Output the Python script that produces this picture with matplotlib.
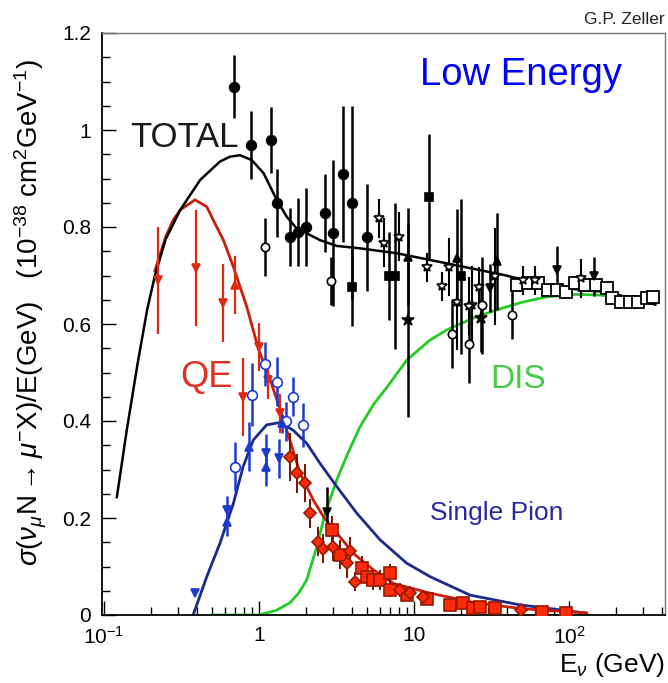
import matplotlib
matplotlib.use("Agg")
import matplotlib.pyplot as plt
from matplotlib.ticker import FixedLocator, FixedFormatter, MultipleLocator, NullFormatter

plt.rcParams['font.family'] = ['Liberation Sans', 'DejaVu Sans']
plt.rcParams['mathtext.fontset'] = 'custom'
plt.rcParams['mathtext.rm'] = 'Liberation Sans'
plt.rcParams['mathtext.it'] = 'Liberation Sans:italic'
plt.rcParams['mathtext.sf'] = 'Liberation Sans'

# ---------------- curves ----------------
total_E = [0.121, 0.14, 0.165, 0.19, 0.213, 0.25, 0.31, 0.417, 0.56, 0.65, 0.754, 0.897, 1.07, 1.30,
           1.51, 1.75, 2.03, 2.47, 3.17, 4.48, 7.7, 12.7, 26.7, 38, 79, 176, 316, 360]
total_y = [0.243, 0.38, 0.52, 0.63, 0.70, 0.775, 0.835, 0.897, 0.935, 0.945, 0.948, 0.938, 0.911, 0.856,
           0.821, 0.797, 0.787, 0.773, 0.761, 0.756, 0.746, 0.732, 0.711, 0.701, 0.676, 0.666, 0.645, 0.64]

qe_E = [0.213, 0.25, 0.28, 0.31, 0.386, 0.46, 0.507, 0.589, 0.683, 0.833, 0.99, 1.18, 1.37, 1.58, 1.84,
        2.24, 2.6, 3.33, 4.06, 5.47, 7.37, 12.7, 25, 50, 130]
qe_y = [0.71, 0.78, 0.815, 0.835, 0.856, 0.842, 0.814, 0.773, 0.718, 0.636, 0.549, 0.485, 0.423, 0.361,
        0.292, 0.237, 0.203, 0.161, 0.127, 0.093, 0.065, 0.045, 0.025, 0.013, 0.004]

pion_E = [0.376, 0.46, 0.56, 0.683, 0.79, 0.919, 1.12, 1.37, 1.66, 2.03, 2.47, 3.17, 4.27, 6.04, 8.95,
          12.7, 23, 48, 101, 130]
pion_y = [0.0, 0.079, 0.148, 0.23, 0.306, 0.361, 0.392, 0.397, 0.381, 0.354, 0.313, 0.265, 0.21, 0.155,
          0.107, 0.079, 0.041, 0.021, 0.008, 0.004]

dis_E = [0.5, 1.0, 1.3, 1.58, 1.8, 2.03, 2.36, 2.67, 3.17, 3.7, 4.48, 5.5, 6.7, 9.0, 12.7, 16.3, 24, 34,
         50, 72, 110, 151, 220, 316]
dis_y = [0.0, 0.0, 0.01, 0.025, 0.045, 0.072, 0.141, 0.21, 0.278, 0.33, 0.388, 0.435, 0.47, 0.526, 0.567,
         0.588, 0.612, 0.629, 0.645, 0.656, 0.661, 0.66, 0.656, 0.65]

# ---------------- data points ----------------
bfc_E = [0.693, 0.888, 1.19, 1.30, 1.58, 1.79, 2.0, 2.66, 2.99, 3.46, 3.98, 5.0]
bfc_y = [1.089, 0.969, 0.979, 0.849, 0.779, 0.79, 0.80, 0.829, 0.788, 0.909, 0.849, 0.779]
bfc_e = [0.065, 0.07, 0.068, 0.07, 0.06, 0.07, 0.08, 0.08, 0.15, 0.14, 0.2, 0.11]

bfs_E = [3.98, 6.9, 7.5, 12.4, 20.2]
bfs_y = [0.676, 0.699, 0.699, 0.862, 0.698]
bfs_e = [0.08, 0.09, 0.15, 0.13, 0.16]

bfx_E = [9.1, 27.0]
bfx_y = [0.608, 0.612]
bfx_e = [0.2, 0.07]

boc_E = [1.09, 2.9, 17.7, 22.7, 27.6, 43]
boc_y = [0.759, 0.689, 0.579, 0.559, 0.639, 0.619]
boc_e = [0.06, 0.05, 0.07, 0.08, 0.1, 0.05]

bst_E = [5.98, 6.4, 8.04, 12.1, 15.1, 16.9, 18.8, 23.6, 26.4, 22.7, 33.3, 50.5, 60, 120]
bst_y = [0.818, 0.768, 0.78, 0.717, 0.678, 0.717, 0.646, 0.639, 0.677, 0.637, 0.698, 0.69, 0.69, 0.694]
bst_e = [0.04, 0.05, 0.05, 0.03, 0.03, 0.06, 0.1, 0.08, 0.04, 0.06, 0.1, 0.03, 0.03, 0.04]

btu_E = [9.1, 19.0, 34.1]
btu_y = [0.739, 0.737, 0.729]
btu_e = [0.1, 0.1, 0.1]

btd_E = [2.73, 31, 83, 144]
btd_y = [0.213, 0.674, 0.711, 0.698]
btd_e = [0.05, 0.05, 0.05, 0.04]

bos_E = [46, 54.5, 63.2, 73.4, 83, 96, 109, 126, 150, 175, 190, 217, 248, 280, 317, 350]
bos_y = [0.68, 0.684, 0.684, 0.67, 0.67, 0.667, 0.684, 0.68, 0.68, 0.674, 0.653, 0.646, 0.646, 0.646,
         0.653, 0.656]

rtd_E = [0.223, 0.392, 0.589, 0.79, 1.0, 1.15, 1.37]
rtd_y = [0.69, 0.715, 0.643, 0.45, 0.553, 0.485, 0.416]
rtd_e = [0.11, 0.12, 0.08, 0.08, 0.05, 0.04, 0.04]

rtu_E = [0.7]
rtu_y = [0.68]
rtu_e = [0.06]

rsq_E = [2.94, 3.33, 4.6, 4.95, 5.47, 6.04, 7.0, 7.0, 8.95, 12.1, 17.1, 20.8, 24.1, 26.7, 33.2, 67, 96]
rsq_y = [0.175, 0.124, 0.096, 0.079, 0.072, 0.072, 0.086, 0.052, 0.041, 0.034, 0.021, 0.024, 0.014,
         0.017, 0.014, 0.007, 0.005]
rsq_e = [0.03, 0.03, 0.025, 0.02, 0.02, 0.02, 0.02, 0.015, 0.012, 0.01, 0.008, 0.008, 0.006, 0.006,
         0.005, 0.004, 0.003]

rdm_E = [1.58, 1.75, 1.98, 2.13, 2.41, 2.6, 3.01, 3.68, 3.87, 4.16, 8.1, 9.4, 11.5, 49]
rdm_y = [0.326, 0.292, 0.272, 0.21, 0.151, 0.137, 0.141, 0.107, 0.131, 0.069, 0.052, 0.045, 0.038, 0.01]
rdm_e = [0.05, 0.04, 0.04, 0.03, 0.03, 0.03, 0.03, 0.03, 0.03, 0.02, 0.015, 0.012, 0.01, 0.005]

boc2_E = [0.7, 0.897, 1.09, 1.30, 1.49, 1.65, 1.91]
boc2_y = [0.306, 0.454, 0.518, 0.481, 0.399, 0.45, 0.392]
boc2_e = [0.05, 0.065, 0.045, 0.05, 0.04, 0.04, 0.045]

bltd_E = [0.386, 0.62, 1.11, 1.35]
bltd_y = [0.045, 0.216, 0.333, 0.323]
bltd_e = [0.0, 0.03, 0.04, 0.04]

bltu_E = [0.62, 0.866, 1.11, 1.40]
bltu_y = [0.192, 0.347, 0.306, 0.395]
bltu_e = [0.03, 0.05, 0.04, 0.02]

xtick_vals = [0.1, 1, 10, 100]
xtick_labels = [r"$10^{-1}$", "1", "10", r"$10^{2}$"]
ytick_vals = [0, 0.2, 0.4, 0.6, 0.8, 1.0, 1.2]
ytick_labels = ["0", "0.2", "0.4", "0.6", "0.8", "1", "1.2"]

# ---------------- figure ----------------
W, H = 668, 683
fig = plt.figure(figsize=(W / 100, H / 100), dpi=100)
ax = fig.add_axes([102 / W, 68 / H, 563 / W, 582 / H])
ax.set_xscale('log')
ax.set_xlim(10 ** -1.013, 10 ** 2.619)
ax.set_ylim(0, 1.2)

RED_C = '#c8200a'
BLUE_C = '#1c2a8a'
GREEN_C = '#22cc22'

ax.plot(dis_E, dis_y, color=GREEN_C, lw=2.0, zorder=2, solid_joinstyle='round')
ax.plot(pion_E, pion_y, color=BLUE_C, lw=2.0, zorder=2, solid_joinstyle='round')
ax.plot(qe_E, qe_y, color=RED_C, lw=2.0, zorder=2, solid_joinstyle='round')
ax.plot(total_E, total_y, color='black', lw=1.8, zorder=2, solid_joinstyle='round')

def eb(E, y, e, fmt, color, mfc, mec, ms, lw=1.8, z=3):
    ax.errorbar(E, y, yerr=e, fmt=fmt, color=color, ecolor=color, mfc=mfc, mec=mec,
                ms=ms, elinewidth=lw, capsize=0, mew=1.2, zorder=z)

eb(bfc_E, bfc_y, bfc_e, 'o', 'black', 'black', 'black', 7)
eb(bfs_E, bfs_y, bfs_e, 's', 'black', 'black', 'black', 6)
eb(bfx_E, bfx_y, bfx_e, '*', 'black', 'black', 'black', 9)
eb(boc_E, boc_y, boc_e, 'o', 'black', 'white', 'black', 6)
eb(bst_E, bst_y, bst_e, '*', 'black', 'white', 'black', 7, lw=1.5)
eb(btu_E, btu_y, btu_e, '^', 'black', 'black', 'black', 6)
eb(btd_E, btd_y, btd_e, 'v', 'black', 'black', 'black', 6)
ax.plot(bos_E, bos_y, 's', mfc='white', mec='black', ms=8, mew=1.3, ls='none', zorder=3)

RED_D = '#ff2a0a'
eb(rtd_E, rtd_y, rtd_e, 'v', '#dd2a10', '#dd2a10', '#dd2a10', 6, lw=1.6)
eb(rtu_E, rtu_y, rtu_e, '^', '#dd2a10', '#dd2a10', '#dd2a10', 6, lw=1.6)
eb(rsq_E, rsq_y, rsq_e, 's', '#7a1000', RED_D, '#9a1a00', 8, lw=1.4, z=4)
eb(rdm_E, rdm_y, rdm_e, 'D', '#7a1000', RED_D, '#9a1a00', 6, lw=1.4, z=4)

BLUE_D = '#1a3ad0'
eb(boc2_E, boc2_y, boc2_e, 'o', BLUE_D, 'white', BLUE_D, 7, lw=1.8, z=5)
eb(bltd_E, bltd_y, bltd_e, 'v', BLUE_D, BLUE_D, BLUE_D, 6, lw=1.8, z=5)
eb(bltu_E, bltu_y, bltu_e, '^', BLUE_D, BLUE_D, BLUE_D, 6, lw=1.8, z=5)

# ---------------- axes styling ----------------
ax.xaxis.set_major_locator(FixedLocator(xtick_vals))
ax.xaxis.set_major_formatter(FixedFormatter(xtick_labels))
minor = [m * 10.0 ** d for d in (-1, 0, 1, 2) for m in range(2, 10)]
ax.xaxis.set_minor_locator(FixedLocator(minor))
ax.xaxis.set_minor_formatter(NullFormatter())
ax.yaxis.set_major_locator(FixedLocator(ytick_vals))
ax.yaxis.set_major_formatter(FixedFormatter(ytick_labels))
ax.yaxis.set_minor_locator(MultipleLocator(0.05))

ax.tick_params(which='both', direction='in', top=False, right=False, labelsize=15, colors='black')
ax.tick_params(which='major', length=10, width=1.0)
ax.tick_params(which='minor', length=6, width=1.0)
ax.tick_params(axis='x', pad=8)
ax.tick_params(axis='y', pad=8)

for s in ['left', 'bottom']:
    ax.spines[s].set_color('black')
    ax.spines[s].set_linewidth(1.3)
for s in ['top', 'right']:
    ax.spines[s].set_color('#777777')
    ax.spines[s].set_linewidth(1.0)

ax.set_ylabel(r"$\sigma(\nu_{\mu}\mathrm{N}\rightarrow\mu^{-}\mathrm{X})/\mathrm{E(GeV)}\ \ \ (10^{-38}\ \mathrm{cm^{2}GeV^{-1}})$",
              fontsize=20)
ax.yaxis.set_label_coords(-0.094, 0.52)

fig.text(665 / W, 1 - 672 / H, r"E$_{\nu}$ (GeV)", fontsize=19, ha='right', va='baseline')
fig.text(665 / W, 1 - 24 / H, "G.P. Zeller", fontsize=12.5, ha='right', va='baseline', color='#222222')

ax.text((420 - 102) / 563, 0.928, "Low Energy", transform=ax.transAxes, fontsize=27.5, color='#0000ff',
        ha='left', va='center')
ax.text((130 - 102) / 563, 0.82, "TOTAL", transform=ax.transAxes, fontsize=25, color='#1a1a1a',
        ha='left', va='center')
ax.text((180 - 102) / 563, 0.408, "QE", transform=ax.transAxes, fontsize=26, color='#e03020',
        ha='left', va='center')
ax.text((490 - 102) / 563, 0.405, "DIS", transform=ax.transAxes, fontsize=24, color='#44cc44',
        ha='left', va='center')
ax.text((430 - 102) / 563, 0.175, "Single Pion", transform=ax.transAxes, fontsize=19, color='#2a2aa0',
        ha='left', va='center')

fig.savefig("out.png", dpi=100)
